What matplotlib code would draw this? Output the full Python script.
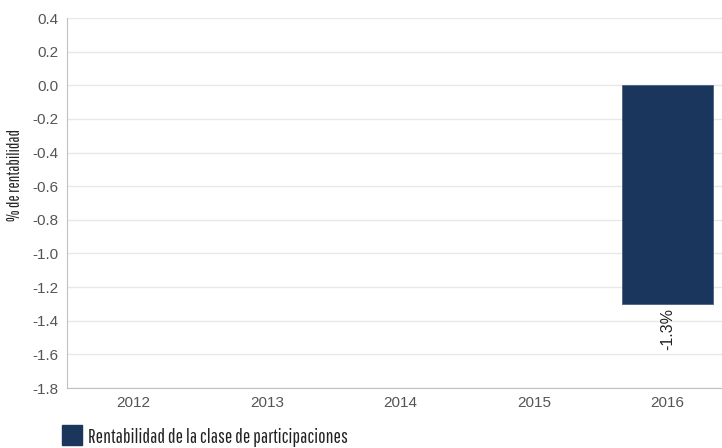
import matplotlib
matplotlib.use("Agg")
import matplotlib.pyplot as plt
from matplotlib.patches import Rectangle

years = ["2012", "2013", "2014", "2015", "2016"]
returns = [None, None, None, None, -1.3]
labels = ["", "", "", "", "-1.3%"]
yticks = [0.4, 0.2, 0.0, -0.2, -0.4, -0.6, -0.8, -1.0, -1.2, -1.4, -1.6, -1.8]

W, H = 722, 448
cond = ["Pathway Gothic One", "DejaVu Sans"]
fig = plt.figure(figsize=(W / 100, H / 100), dpi=100)
ax = fig.add_axes([67 / W, 1 - 388 / H, (722 - 67) / W, (388 - 18) / H])

navy = "#1b365d"
xs = [i for i, v in enumerate(returns) if v is not None]
vals = [v for v in returns if v is not None]
ax.bar(xs, vals, width=0.68, color=navy, edgecolor="#4a6080", linewidth=0.6, zorder=3)
for i, v in enumerate(returns):
    if v is not None:
        ax.text(i, v - 0.022, labels[i], rotation=90, ha="center", va="top",
                fontsize=11.5, color="#222222", family="Liberation Sans", zorder=4)

ax.set_xlim(-0.5, (722 - 67) / 133.4 - 0.5)
ax.set_ylim(-1.8, 0.4)
ax.set_yticks(yticks)
ax.set_yticklabels([f"{t:.1f}" for t in yticks])
ax.set_xticks(range(len(years)))
ax.set_xticklabels(years)
ax.grid(axis="y", color="#e8e8e8", linewidth=1, zorder=0)
ax.set_axisbelow(True)
for s in ["top", "right"]:
    ax.spines[s].set_visible(False)
for s in ["left", "bottom"]:
    ax.spines[s].set_color("#c0c0c0")
ax.tick_params(length=0, labelsize=11, colors="#555555", pad=6)
for lab in ax.get_xticklabels() + ax.get_yticklabels():
    lab.set_family("Liberation Sans")

fig.text(15 / W, 1 - 175 / H, "% de rentabilidad", rotation=90, ha="center", va="center",
         fontsize=12, family=cond, color="#222222")

fig.patches.append(Rectangle((62 / W, 1 - 445 / H), 20 / W, 20 / H, transform=fig.transFigure,
                             color=navy))
fig.text(88 / W, 1 - 443 / H, "Rentabilidad de la clase de participaciones", fontsize=14,
         family=cond, color="#222222", va="baseline")

fig.savefig("out.png", dpi=100)
